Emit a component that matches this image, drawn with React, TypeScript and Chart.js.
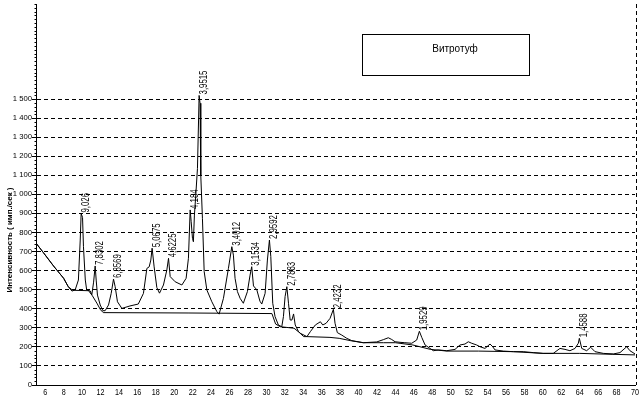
import React, { useEffect, useRef } from 'react';
import { Chart, registerables } from 'chart.js';

Chart.register(...registerables);

// 2θ positions (degrees) and intensities (counts/s) of the measured pattern
const patternTheta = [
  5.0, 5.8, 6.9, 8.0, 8.5, 8.9, 9.25, 9.6, 9.8, 9.9, 10.05, 10.15, 10.35, 10.5, 10.9, 11.05, 11.25, 11.42, 11.53, 11.67,
  11.97, 12.26, 12.5, 12.87, 13.16, 13.41, 13.59, 13.84, 14.32, 15.2, 16.1, 16.66, 17.03, 17.28, 17.46, 17.6, 17.82, 18.11, 18.4, 18.83,
  19.2, 19.38, 19.56, 20.1, 20.83, 21.29, 21.54, 21.73, 21.84, 21.98, 22.08, 22.19, 22.34, 22.52, 22.7, 22.8, 22.88, 23.06, 23.25, 23.54,
  24.08, 24.63, 24.87, 25.34, 25.88, 26.25, 26.42, 26.6, 26.86, 27.15, 27.5, 27.94, 28.23, 28.41, 28.6, 28.96, 29.3, 29.5, 29.86, 30.11,
  30.33, 30.48, 30.69, 30.94, 31.3, 31.67, 31.85, 32.03, 32.22, 32.4, 32.58, 32.77, 32.95, 33.13, 33.49, 34.04, 34.4, 34.77, 35.31, 35.86,
  36.12, 36.48, 36.91, 37.27, 37.45, 37.7, 38.18, 38.72, 39.26, 40.52, 41.98, 42.33, 42.69, 43.23, 43.6, 43.96, 44.5, 45.02, 45.77, 46.31,
  46.6, 46.86, 47.22, 47.76, 48.12, 48.66, 49.57, 50.47, 51.01, 51.55, 51.91, 52.28, 52.82, 53.18, 53.72, 54.27, 54.56, 54.81, 55.71, 56.8,
  57.88, 58.97, 60.05, 61.13, 61.86, 62.4, 62.94, 63.49, 63.85, 63.96, 64.22, 64.75, 65.19, 65.66, 66.56, 67.65, 68.37, 69.1, 69.45, 70.0,
];
const patternCounts = [
  745, 695, 625, 560, 516, 493, 499, 551, 761, 900, 880, 726, 551, 499, 493, 472, 540, 625, 551, 472,
  420, 390, 390, 420, 481, 556, 516, 437, 402, 415, 425, 481, 612, 620, 656, 718, 620, 512, 482, 525,
  604, 665, 569, 542, 525, 560, 665, 919, 857, 770, 752, 892, 997, 1137, 1520, 1479, 1102, 875, 595, 499,
  437, 385, 372, 455, 612, 726, 682, 560, 490, 455, 429, 490, 577, 621, 520, 500, 440, 425, 481, 656,
  761, 674, 429, 359, 315, 306, 359, 464, 516, 429, 341, 341, 373, 315, 280, 254, 254, 280, 315, 332,
  315, 324, 350, 397, 324, 275, 262, 245, 233, 222, 226, 232, 238, 248, 239, 227, 224, 222, 219, 236,
  282, 250, 210, 192, 180, 184, 180, 187, 210, 215, 227, 219, 210, 201, 192, 215, 201, 184, 178, 175,
  175, 170, 166, 166, 192, 187, 180, 192, 219, 245, 192, 180, 198, 175, 166, 163, 170, 201, 180, 163,
];

// fitted background line
const backgroundTheta = [
  5.0, 5.8, 6.9, 8.0, 8.5, 8.9, 9.2, 10.7, 11.1, 11.6, 12.0, 12.3, 21.5, 30.6, 31.0, 31.5, 33.0, 33.7, 34.4, 36.9,
  37.9, 39.1, 40.5, 42.7, 44.0, 45.9, 47.8, 49.6, 53.0, 56.8, 60.0, 64.0, 67.6, 70.0,
];
const backgroundCounts = [
  745, 695, 625, 560, 516, 500, 497, 495, 470, 430, 395, 380, 378, 375, 320, 306, 298, 271, 254, 250,
  245, 233, 222, 222, 222, 210, 187, 178, 178, 175, 166, 166, 161, 158,
];

// peak annotations (d-spacings) and the peak they mark
const peakLabels = ['9,026', '7,8302', '6,8569', '5,0675', '4,6225', '4,184', '3,9515', '3,4012', '3,1534', '2,9592', '2,7883', '2,4232', '1,9529', '1,4588'];
const peakTheta = [9.9, 11.42, 13.41, 17.6, 19.38, 21.73, 22.7, 26.25, 28.41, 30.33, 32.22, 37.27, 46.6, 63.96];
const peakCounts = [900, 625, 556, 718, 665, 919, 1520, 726, 621, 761, 516, 397, 282, 245];

const xTickValues = [6, 8, 10, 12, 14, 16, 18, 20, 22, 24, 26, 28, 30, 32, 34, 36, 38, 40, 42, 44, 46, 48, 50, 52, 54, 56, 58, 60, 62, 64, 66, 68, 70];
const yTickValues = [0, 100, 200, 300, 400, 500, 600, 700, 800, 900, 1000, 1100, 1200, 1300, 1400, 1500];

const legendText = 'Витротуф';
const yTitle = 'Интенсивность ( имп./сек )';

const FONT = '"Liberation Sans", Arial, "DejaVu Sans", sans-serif';

function fmtThousands(v: number): string {
  if (v >= 1000) return `${Math.floor(v / 1000)} ${String(v % 1000).padStart(3, '0')}`;
  return String(v);
}

function drawText(
  ctx: CanvasRenderingContext2D,
  text: string,
  x: number,
  y: number,
  size: number,
  sx: number,
  align: CanvasTextAlign,
  baseline: CanvasTextBaseline,
  rot = 0,
  bold = false,
) {
  ctx.save();
  ctx.translate(x, y);
  if (rot) ctx.rotate(rot);
  ctx.scale(sx, 1);
  ctx.font = `${bold ? 'bold ' : ''}${size}px ${FONT}`;
  ctx.textAlign = align;
  ctx.textBaseline = baseline;
  ctx.fillStyle = '#000';
  ctx.fillText(text, 0, 0);
  ctx.restore();
}

const overlay = {
  id: 'overlay',
  afterDraw(chart: any) {
    const { ctx, chartArea } = chart;
    const xs = chart.scales.x;
    const ys = chart.scales.y;

    // right dashed border
    ctx.save();
    ctx.strokeStyle = '#000';
    ctx.lineWidth = 1;
    ctx.setLineDash([4, 3]);
    const rx = Math.round(chartArea.right) + 1.5;
    ctx.beginPath();
    ctx.moveTo(rx, chartArea.top);
    ctx.lineTo(rx, chartArea.bottom);
    ctx.stroke();
    ctx.restore();

    // minor ticks on y axis
    ctx.save();
    ctx.strokeStyle = '#000';
    ctx.lineWidth = 1;
    ctx.beginPath();
    const lx = Math.round(chartArea.left) + 0.5;
    for (let v = 20; v <= 2000; v += 20) {
      if (v % 100 === 0 && v <= 1500) continue;
      const py = Math.round(ys.getPixelForValue(v)) + 0.5;
      ctx.moveTo(lx - 2, py);
      ctx.lineTo(lx, py);
    }
    ctx.stroke();
    ctx.restore();

    // x tick labels
    xTickValues.forEach((v) => {
      drawText(ctx, String(v), xs.getPixelForValue(v), chartArea.bottom + 8, 9, 0.8, 'center', 'middle');
    });
    // y tick labels
    yTickValues.forEach((v) => {
      drawText(ctx, fmtThousands(v), chartArea.left - 4, ys.getPixelForValue(v), 7, 1.1, 'right', 'middle');
    });

    // y title
    ctx.save();
    ctx.font = `bold 8px ${FONT}`;
    const w = ctx.measureText(yTitle).width;
    ctx.restore();
    drawText(ctx, yTitle, 10, 240, 8, 105 / w, 'center', 'middle', -Math.PI / 2, true);

    // peak labels
    peakLabels.forEach((t, i) => {
      const px = xs.getPixelForValue(peakTheta[i]) + 5;
      const py = ys.getPixelForValue(peakCounts[i]) - 1;
      drawText(ctx, t, px, py, 10, 0.78, 'left', 'middle', -Math.PI / 2);
    });

    // legend box
    ctx.save();
    ctx.fillStyle = '#fff';
    ctx.fillRect(362, 34, 167, 42);
    ctx.strokeStyle = '#000';
    ctx.lineWidth = 1;
    ctx.strokeRect(362.5, 34.5, 167, 41);
    ctx.restore();
    drawText(ctx, legendText, 455, 49, 10, 1, 'center', 'middle');
  },
};

export default function App() {
  const ref = useRef<HTMLCanvasElement>(null);

  useEffect(() => {
    document.body.style.margin = '0';
    const canvas = ref.current;
    if (!canvas) return;
    const chart = new Chart(canvas, {
      type: 'line',
      data: {
        datasets: [
          {
            label: 'background',
            data: backgroundTheta.map((t, i) => ({ x: t, y: backgroundCounts[i] })),
            borderColor: '#000',
            borderWidth: 1,
            pointRadius: 0,
            fill: false,
            tension: 0,
          },
          {
            label: legendText,
            data: patternTheta.map((t, i) => ({ x: t, y: patternCounts[i] })),
            borderColor: '#000',
            borderWidth: 1,
            pointRadius: 0,
            fill: false,
            tension: 0,
          },
        ],
      },
      options: {
        animation: false,
        responsive: false,
        devicePixelRatio: 1,
        layout: { padding: { top: 4, right: 7, left: 0, bottom: 0 } },
        plugins: { legend: { display: false }, tooltip: { enabled: false } },
        scales: {
          x: {
            type: 'linear',
            min: 5,
            max: 70,
            afterFit: (s: any) => { s.height = 14; },
            afterBuildTicks: (s: any) => { s.ticks = xTickValues.map((v) => ({ value: v })); },
            grid: { display: false },
            border: { display: true, color: '#000', width: 1 },
            ticks: { display: false },
          },
          y: {
            type: 'linear',
            min: 0,
            max: 2000,
            afterFit: (s: any) => { s.width = 36; },
            afterBuildTicks: (s: any) => { s.ticks = yTickValues.map((v) => ({ value: v })); },
            grid: {
              color: (c: any) => (c.tick && c.tick.value === 0 ? 'rgba(0,0,0,0)' : '#000'),
              tickColor: '#000',
              tickLength: 4,
              lineWidth: 1,
            },
            border: { display: true, color: '#000', width: 1, dash: [4, 3] },
            ticks: { display: false },
          },
        },
      },
      plugins: [overlay],
    });
    return () => chart.destroy();
  }, []);

  return (
    <div style={{ width: 642, height: 399 }}>
      <canvas ref={ref} width={642} height={399} />
    </div>
  );
}
